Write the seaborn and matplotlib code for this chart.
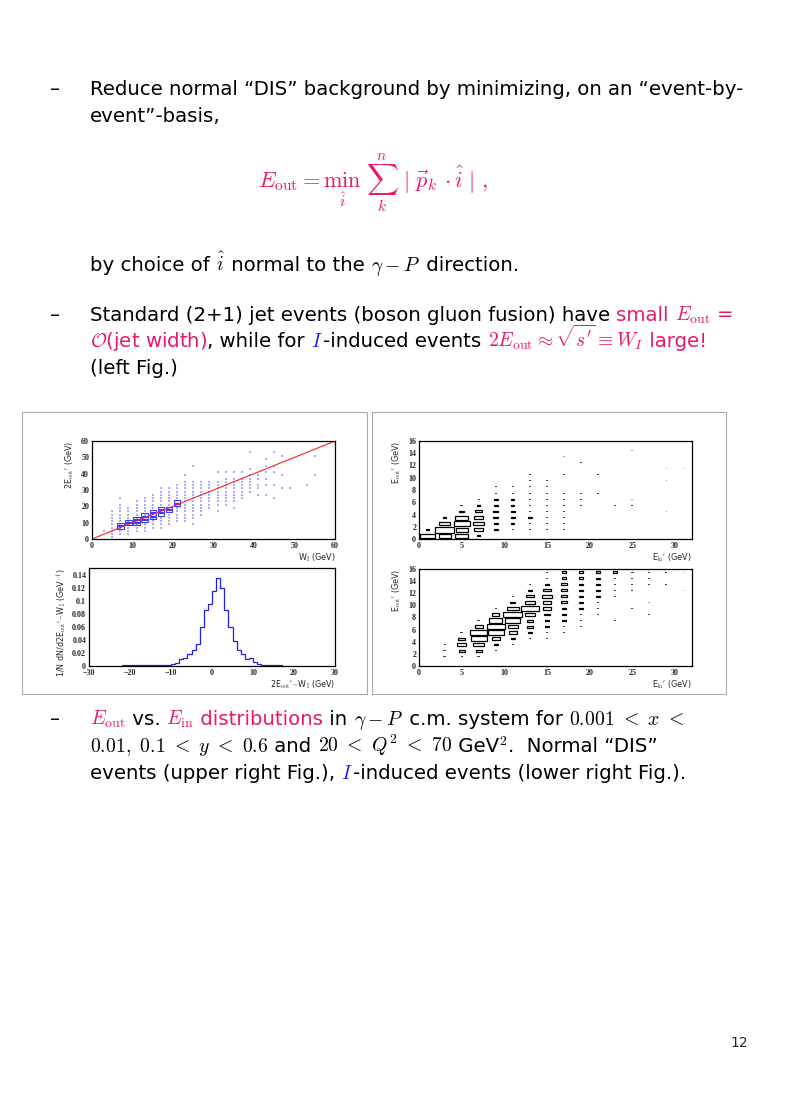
import matplotlib
matplotlib.use("Agg")
import matplotlib.pyplot as plt
from matplotlib.patches import Rectangle
import numpy as np
import pandas as pd
import seaborn as sns

W, H = 790, 1116
RED = "#e8186a"
BLUE = "#1a1aff"

# ---------------- data ----------------
# top-left: W_I column -> list of 2E_out values where events exist
tl_cols = {
    3: [5], 5: [1, 3, 5, 7, 9, 11, 13, 15, 17], 7: [3, 5, 7, 9, 11, 13, 15, 17, 19, 21, 25],
    9: [3, 5, 7, 11, 13, 15, 17, 19], 11: [5, 7, 9, 13, 15, 17, 19, 21, 23],
    13: [5, 7, 9, 15, 17, 19, 21, 23, 25], 15: [7, 9, 11, 13, 19, 21, 23, 25, 27],
    17: [7, 9, 11, 13, 21, 23, 25, 27, 29, 31], 19: [9, 11, 13, 15, 21, 23, 25, 27, 29, 31],
    21: [11, 13, 15, 17, 19, 25, 27, 29, 31, 33],
    23: [11, 13, 15, 17, 19, 21, 23, 25, 27, 29, 31, 33, 35, 39],
    25: [9, 13, 15, 17, 19, 21, 23, 25, 27, 29, 31, 33, 35, 45],
    27: [15, 17, 19, 21, 23, 25, 27, 29, 31, 33, 35], 29: [19, 21, 23, 25, 27, 29, 31, 33, 35],
    31: [17, 21, 23, 25, 27, 29, 31, 33, 35, 41], 33: [21, 23, 25, 27, 29, 31, 33, 35, 37, 41],
    35: [19, 23, 25, 27, 29, 31, 33, 35, 37, 41], 37: [25, 27, 29, 31, 33, 35, 37, 41],
    39: [29, 31, 33, 35, 37, 39, 43, 53], 41: [27, 31, 33, 37, 39], 43: [27, 33, 37, 41, 45, 49],
    45: [25, 33, 41, 45, 53], 47: [31, 39, 51], 49: [31], 53: [33], 55: [39, 51],
}
tl_box_x = [7, 7, 9, 9, 11, 11, 11, 13, 13, 13, 15, 15, 15, 17, 17, 17, 19, 19, 21, 21]
tl_box_y = [7, 9, 9, 11, 11, 13, 9, 13, 15, 11, 15, 17, 13, 17, 19, 15, 19, 17, 21, 23]

# bottom-left histogram
bl_edges = list(range(-22, 18))
bl_vals = [0.001, 0.001, 0.001, 0.001, 0.001, 0.001, 0.001, 0.002, 0.002, 0.002, 0.002, 0.002,
           0.003, 0.005, 0.010, 0.013, 0.018, 0.024, 0.034, 0.060, 0.085, 0.095, 0.115, 0.135,
           0.120, 0.085, 0.060, 0.038, 0.025, 0.018, 0.011, 0.012, 0.006, 0.003, 0.002, 0.001,
           0.001, 0.001, 0.001]

# right plots: (E_in bin centre, E_out bin centre, relative content)
tr_x = [1, 1, 3, 3, 3, 3, 5, 5, 5, 5, 5, 5, 7, 7, 7, 7, 7, 7, 7,
        9, 9, 9, 9, 9, 9, 9, 9, 11, 11, 11, 11, 11, 11, 11, 11,
        13, 13, 13, 13, 13, 13, 13, 13, 13, 13, 15, 15, 15, 15, 15, 15, 15, 15, 15,
        17, 17, 17, 17, 17, 17, 17, 17, 17, 19, 19, 19, 19, 21, 21, 23, 25, 25, 25, 29, 29, 29, 31]
tr_y = [0.5, 1.5, 0.5, 1.5, 2.5, 3.5, 0.5, 1.5, 2.5, 3.5, 4.5, 5.5, 0.5, 1.5, 2.5, 3.5, 4.5, 5.5, 6.5,
        1.5, 2.5, 3.5, 4.5, 5.5, 6.5, 7.5, 8.5, 1.5, 2.5, 3.5, 4.5, 5.5, 6.5, 7.5, 8.5,
        1.5, 2.5, 3.5, 4.5, 5.5, 6.5, 7.5, 8.5, 9.5, 10.5, 1.5, 2.5, 3.5, 4.5, 5.5, 6.5, 7.5, 8.5, 9.5,
        1.5, 2.5, 3.5, 4.5, 5.5, 6.5, 7.5, 10.5, 13.5, 5.5, 6.5, 7.5, 12.5, 7.5, 10.5, 5.5, 5.5, 6.5, 14.5,
        4.5, 9.5, 11.5, 11.5]
tr_c = [60, 3, 40, 100, 35, 3, 45, 40, 70, 45, 8, 2, 3, 25, 35, 25, 12, 3, 2,
        4, 5, 6, 6, 5, 4, 2, 2, 2, 3, 4, 4, 3, 3, 2, 2,
        1, 2, 3, 2, 2, 2, 2, 2, 1, 1, 1, 1, 2, 2, 2, 1, 2, 1, 1,
        1, 1, 1, 1, 1, 1, 1, 1, 0.5, 1, 1, 1, 1, 1, 1, 1, 1, 0.5, 0.5,
        0.5, 0.5, 0.5, 0.5]

br_x = [3, 3, 3, 5, 5, 5, 5, 5, 7, 7, 7, 7, 7, 7, 7, 9, 9, 9, 9, 9, 9, 9, 9,
        11, 11, 11, 11, 11, 11, 11, 11, 11, 13, 13, 13, 13, 13, 13, 13, 13, 13, 13,
        15, 15, 15, 15, 15, 15, 15, 15, 15, 15, 15, 15, 17, 17, 17, 17, 17, 17, 17, 17, 17, 17, 17,
        19, 19, 19, 19, 19, 19, 19, 19, 19, 19, 21, 21, 21, 21, 21, 21, 21, 21,
        23, 23, 23, 23, 23, 23, 25, 25, 25, 25, 25, 27, 27, 27, 27, 27, 29, 29, 31, 31]
br_y = [1.5, 2.5, 3.5, 1.5, 2.5, 3.5, 4.5, 5.5, 1.5, 2.5, 3.5, 4.5, 5.5, 6.5, 7.5,
        2.5, 3.5, 4.5, 5.5, 6.5, 7.5, 8.5, 9.5,
        3.5, 4.5, 5.5, 6.5, 7.5, 8.5, 9.5, 10.5, 11.5,
        4.5, 5.5, 6.5, 7.5, 8.5, 9.5, 10.5, 11.5, 12.5, 13.5,
        4.5, 5.5, 6.5, 7.5, 8.5, 9.5, 10.5, 11.5, 12.5, 13.5, 14.5, 15.5,
        5.5, 6.5, 7.5, 8.5, 9.5, 10.5, 11.5, 12.5, 13.5, 14.5, 15.5,
        6.5, 7.5, 8.5, 9.5, 10.5, 11.5, 12.5, 13.5, 14.5, 15.5,
        8.5, 9.5, 10.5, 11.5, 12.5, 13.5, 14.5, 15.5,
        7.5, 11.5, 12.5, 13.5, 14.5, 15.5, 9.5, 12.5, 13.5, 14.5, 15.5,
        8.5, 10.5, 13.5, 14.5, 15.5, 13.5, 15.5, 12.5, 15.5]
br_c = [2, 2, 1, 1, 8, 20, 12, 2, 2, 8, 25, 60, 65, 15, 2,
        2, 4, 15, 55, 70, 40, 12, 2,
        2, 4, 15, 25, 50, 80, 35, 5, 2,
        2, 3, 8, 10, 25, 70, 25, 12, 3, 2,
        1, 2, 3, 4, 8, 12, 18, 22, 12, 4, 2, 2,
        2, 2, 3, 3, 4, 8, 10, 8, 8, 4, 4,
        1, 2, 2, 3, 3, 4, 4, 4, 4, 5,
        1, 2, 2, 3, 3, 3, 3, 4,
        1, 1, 2, 2, 2, 3, 1, 1, 1, 1, 2,
        1, 0.5, 1, 1, 1, 1, 1, 0.5, 0.5]

# ---------------- figure ----------------
sns.set_style("white")
plt.rcParams["mathtext.fontset"] = "cm"
fig = plt.figure(figsize=(W / 100, H / 100), dpi=100)
renderer = fig.canvas.get_renderer()

FS = 14.2
FONT = "DejaVu Sans"


def seg_text(x, y, parts, size=FS):
    for txt, col in parts:
        t = fig.text(x / W, 1 - y / H, txt, color=col, fontsize=size, va="baseline",
                     ha="left", family=FONT)
        bb = t.get_window_extent(renderer)
        x += bb.width


def px_axes(l, t, r, b):
    return fig.add_axes([l / W, 1 - b / H, (r - l) / W, (b - t) / H])


K = "black"
seg_text(50, 95, [("–", K)])
seg_text(90, 95, [("Reduce normal “DIS” background by minimizing, on an “event-by-", K)])
seg_text(90, 122, [("event”-basis,", K)])
seg_text(258, 188, [(r"$E_{\rm out} = \min_{\hat{i}}\ \sum_{k}^{n}\ |\ \vec{p}_k\cdot\hat{i}\ |\ ,$", RED)], size=16)
seg_text(90, 271, [("by choice of ", K), (r"$\hat{i}$", K), (" normal to the ", K),
                   (r"$\gamma - P$", K), (" direction.", K)])
seg_text(50, 321, [("–", K)])
seg_text(90, 321, [("Standard (2+1) jet events (boson gluon fusion) have ", K),
                   ("small ", RED), (r"$E_{\rm out}$ =", RED)])
seg_text(90, 347, [(r"$\mathcal{O}$(jet width)", RED), (", while for ", K), (r"$I$", BLUE),
                   ("-induced events ", K), (r"$2E_{\rm out}\approx\sqrt{s'}\equiv W_I$", RED),
                   (" large!", RED)])
seg_text(90, 374, [("(left Fig.)", K)])
seg_text(50, 725, [("–", K)])
seg_text(90, 725, [(r"$E_{\rm out}$", RED), (" vs. ", K), (r"$E_{\rm in}$", RED),
                   (" distributions", RED), (" in ", K), (r"$\gamma - P$", K),
                   (" c.m. system for ", K), (r"$0.001\ <\ x\ <$", K)])
seg_text(90, 752, [(r"$0.01,\ 0.1\ <\ y\ <\ 0.6$", K), (" and ", K),
                   (r"$20\ <\ Q^2\ <\ 70$", K), (" GeV", K), (r"$^2$", K),
                   (".  Normal “DIS”", K)])
seg_text(90, 779, [("events (upper right Fig.), ", K), (r"$I$", BLUE),
                   ("-induced events (lower right Fig.).", K)])
fig.text(748 / W, 1 - 1047 / H, "12", fontsize=10, ha="right", va="baseline", family=FONT)

# panel frames
for (l, t, r, b) in [(22, 412, 367, 694), (372, 412, 726, 694)]:
    fig.patches.append(Rectangle((l / W, 1 - b / H), (r - l) / W, (b - t) / H,
                                 transform=fig.transFigure, fill=False, ec="#aaaaaa", lw=0.8))

LABF = dict(family=FONT, fontsize=5.8)


def style(ax):
    for s in ax.spines.values():
        s.set_linewidth(0.9)
        s.set_color("black")
    ax.tick_params(direction="in", length=3, width=0.6, pad=2, top=False, right=False,
                   labelsize=5.8)
    for lab in ax.get_xticklabels() + ax.get_yticklabels():
        lab.set_fontfamily("Liberation Serif")
        lab.set_fontweight("bold")


# top-left
ax1 = px_axes(92, 441, 335, 539)
dx, dy = [], []
for cx, ys in tl_cols.items():
    for yy in ys:
        dx.append(cx)
        dy.append(yy)
sns.scatterplot(x=dx, y=dy, ax=ax1, marker="s", s=1.5, color="#5a5aff", linewidth=0, alpha=0.5)
for bx, by in zip(tl_box_x, tl_box_y):
    ax1.add_patch(Rectangle((bx - 0.8, by - 0.7), 1.6, 1.4, fill=False, ec="#3a3aff", lw=0.8))
ax1.plot([0, 60], [0, 60], color="#ff2020", lw=0.8)
ax1.set_xlim(0, 60)
ax1.set_ylim(0, 60)
ax1.set_xticks(range(0, 61, 10))
ax1.set_yticks(range(0, 61, 10))
style(ax1)
ax1.set_xlabel(r"W$_{\rm I}$ (GeV)", loc="right", labelpad=1, **LABF)
ax1.set_ylabel(r"2E$_{\rm out}$$^{\prime}$ (GeV)", loc="top", labelpad=4, **LABF)

# bottom-left
ax2 = px_axes(89, 568, 335, 666)
ax2.stairs(bl_vals, bl_edges, color="#2020ee", lw=0.9)
ax2.set_xlim(-30, 30)
ax2.set_ylim(0, 0.15)
ax2.set_xticks(range(-30, 31, 10))
ax2.set_yticks([0, 0.02, 0.04, 0.06, 0.08, 0.1, 0.12, 0.14])
ax2.set_yticklabels(["0", "0.02", "0.04", "0.06", "0.08", "0.1", "0.12", "0.14"])
style(ax2)
ax2.set_xlabel(r"2E$_{\rm out}$$^{\prime}$$-$W$_{\rm I}$ (GeV)", loc="right", labelpad=1, **LABF)
ax2.set_ylabel(r"1/N dN/d2E$_{\rm out}$$^{\prime}$$-$W$_{\rm I}$ (GeV$^{-1}$)", loc="top",
               labelpad=2, **LABF)


def box_plot(ax, xs, ys, cs):
    cmax = max(cs)
    df = pd.DataFrame({"x": xs, "y": ys, "c": cs})
    for _, r in df.iterrows():
        f = np.sqrt(r.c / cmax)
        small = f < 0.17
        if small:
            w = 0.3 * (0.5 + f / 0.17 * 0.5)
            h = 0.16
            ax.add_patch(Rectangle((r.x - w / 2, r.y - h / 2), w, h, fill=True,
                                   fc="black", ec="none", alpha=0.35 if r.c < 1 else 0.75))
        else:
            w = 2.2 * f
            h = 0.95 * f
            ax.add_patch(Rectangle((r.x - w / 2, r.y - h / 2), w, h, fill=False,
                                   ec="black", lw=0.9))
    ax.set_xlim(0, 32)
    ax.set_ylim(0, 16)
    ax.set_xticks(range(0, 31, 5))
    ax.set_yticks(range(0, 17, 2))
    style(ax)
    ax.set_xlabel(r"E$_{\rm in}$$^{\prime}$ (GeV)", loc="right", labelpad=1, **LABF)
    ax.set_ylabel(r"E$_{\rm out}$$^{\prime}$ (GeV)", loc="top", labelpad=4, **LABF)


ax3 = px_axes(419, 441, 692, 539)
box_plot(ax3, tr_x, tr_y, tr_c)
ax4 = px_axes(419, 569, 692, 666)
box_plot(ax4, br_x, br_y, br_c)

fig.savefig("out.png", dpi=100)
